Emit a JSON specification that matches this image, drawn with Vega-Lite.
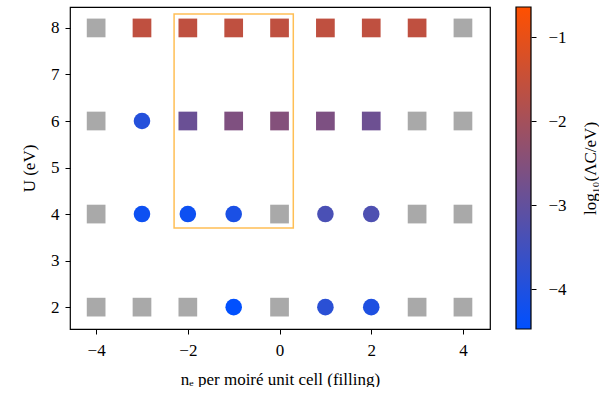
{
  "$schema": "https://vega.github.io/schema/vega-lite/v6.json",
  "padding": {"left": 20, "top": 7, "right": 0, "bottom": 0},
  "background": "white",
  "width": 420,
  "height": 322,
  "config": {
    "font": "Liberation Serif",
    "view": {"stroke": "black", "strokeWidth": 1.2},
    "axis": {"labelFont": "Liberation Serif", "titleFont": "Liberation Serif", "labelFontSize": 17, "titleFontSize": 17, "titleFontWeight": "normal", "labelColor": "black", "titleColor": "black", "tickColor": "black", "tickSize": 5, "grid": false, "domain": false},
    "legend": {"labelFont": "Liberation Serif", "titleFont": "Liberation Serif"}
  },
  "datasets": {
    "pts": [
      {"n": -4, "U": 8, "val": null, "shape": "square"},
      {"n": -3, "U": 8, "val": -1.6, "shape": "square"},
      {"n": -2, "U": 8, "val": -1.6, "shape": "square"},
      {"n": -1, "U": 8, "val": -1.6, "shape": "square"},
      {"n": 0, "U": 8, "val": -1.6, "shape": "square"},
      {"n": 1, "U": 8, "val": -1.6, "shape": "square"},
      {"n": 2, "U": 8, "val": -1.6, "shape": "square"},
      {"n": 3, "U": 8, "val": -1.6, "shape": "square"},
      {"n": 4, "U": 8, "val": null, "shape": "square"},
      {"n": -4, "U": 6, "val": null, "shape": "square"},
      {"n": -3, "U": 6, "val": -3.93, "shape": "circle"},
      {"n": -2, "U": 6, "val": -2.88, "shape": "square"},
      {"n": -1, "U": 6, "val": -2.57, "shape": "square"},
      {"n": 0, "U": 6, "val": -2.48, "shape": "square"},
      {"n": 1, "U": 6, "val": -2.6, "shape": "square"},
      {"n": 2, "U": 6, "val": -2.83, "shape": "square"},
      {"n": 3, "U": 6, "val": null, "shape": "square"},
      {"n": 4, "U": 6, "val": null, "shape": "square"},
      {"n": -4, "U": 4, "val": null, "shape": "square"},
      {"n": -3, "U": 4, "val": -4.28, "shape": "circle"},
      {"n": -2, "U": 4, "val": -4.28, "shape": "circle"},
      {"n": -1, "U": 4, "val": -4.08, "shape": "circle"},
      {"n": 0, "U": 4, "val": null, "shape": "square"},
      {"n": 1, "U": 4, "val": -3.36, "shape": "circle"},
      {"n": 2, "U": 4, "val": -3.3, "shape": "circle"},
      {"n": 3, "U": 4, "val": null, "shape": "square"},
      {"n": 4, "U": 4, "val": null, "shape": "square"},
      {"n": -4, "U": 2, "val": null, "shape": "square"},
      {"n": -3, "U": 2, "val": null, "shape": "square"},
      {"n": -2, "U": 2, "val": null, "shape": "square"},
      {"n": -1, "U": 2, "val": -4.45, "shape": "circle"},
      {"n": 0, "U": 2, "val": null, "shape": "square"},
      {"n": 1, "U": 2, "val": -3.84, "shape": "circle"},
      {"n": 2, "U": 2, "val": -4.02, "shape": "circle"},
      {"n": 3, "U": 2, "val": null, "shape": "square"},
      {"n": 4, "U": 2, "val": null, "shape": "square"}
    ],
    "box": [{"x1": -2.3, "x2": 0.3, "y1": 3.7, "y2": 8.3}]
  },
  "layer": [
    {
      "encoding": {
        "x": {"field": "n", "type": "quantitative", "scale": {"domain": [-4.57, 4.59], "nice": false, "zero": false}, "axis": {"values": [-4, -2, 0, 2, 4], "format": "d", "labelFont": "Liberation Serif", "labelFontSize": 17, "labelPadding": 8, "title": "nₑ per moiré unit cell (filling)", "titlePadding": 13}},
        "y": {"field": "U", "type": "quantitative", "scale": {"domain": [1.53, 8.45], "nice": false, "zero": false}, "axis": {"orient": "left", "values": [2, 3, 4, 5, 6, 7, 8], "format": "d", "labelFont": "Liberation Serif", "labelFontSize": 17, "labelPadding": 6, "title": "U (eV)", "titlePadding": 12}}
      },
      "layer": [
        {
          "data": {"name": "box"},
          "mark": {"type": "rect", "fill": null, "fillOpacity": 0, "stroke": "#ffbf55", "strokeWidth": 1.5},
          "encoding": {
            "x": {"field": "x1", "type": "quantitative"},
            "x2": {"field": "x2"},
            "y": {"field": "y1", "type": "quantitative"},
            "y2": {"field": "y2"}
          }
        },
        {
          "data": {"name": "pts"},
          "transform": [{"filter": "datum.val === null"}],
          "mark": {"type": "point", "shape": "square", "filled": true, "size": 350, "color": "#a9a9a9", "opacity": 1}
        },
        {
          "data": {"name": "pts"},
          "transform": [{"filter": "datum.val !== null && datum.shape === 'square'"}],
          "mark": {"type": "point", "shape": "square", "filled": true, "size": 350, "opacity": 1},
          "encoding": {
            "color": {"field": "val", "type": "quantitative",
              "scale": {"domain": [-4.47, -0.64], "range": ["#0050ff", "#ff5000"], "interpolate": "rgb", "nice": false, "zero": false},
              "legend": {"title": null, "orient": "none", "legendX": 446, "legendY": 0, "padding": 0, "direction": "vertical", "gradientLength": 322, "gradientThickness": 15, "gradientStrokeColor": "black", "gradientStrokeWidth": 1.2, "values": [-4, -3, -2, -1], "labelExpr": "''", "labelOpacity": 0}
            }
          }
        },
        {
          "data": {"name": "pts"},
          "transform": [{"filter": "datum.val !== null && datum.shape === 'circle'"}],
          "mark": {"type": "point", "shape": "circle", "filled": true, "size": 275, "opacity": 1},
          "encoding": {
            "color": {"field": "val", "type": "quantitative"}
          }
        }
      ]
    },
    {
      "data": {"name": "pts"},
      "transform": [{"filter": "datum.val !== null"}],
      "mark": {"type": "point", "opacity": 0},
      "encoding": {
        "y": {"field": "val", "type": "quantitative",
          "scale": {"domain": [-4.47, -0.64], "nice": false, "zero": false},
          "axis": {"orient": "right", "offset": 41, "values": [-4, -3, -2, -1], "format": "d", "labelFont": "Liberation Serif", "labelFontSize": 17, "labelPadding": 12, "title": "log₁₀(ΛC/eV)", "titleAngle": 270, "titleBaseline": "top", "titlePadding": 16}
        }
      }
    }
  ],
  "resolve": {"scale": {"y": "independent"}, "axis": {"y": "independent"}}
}
